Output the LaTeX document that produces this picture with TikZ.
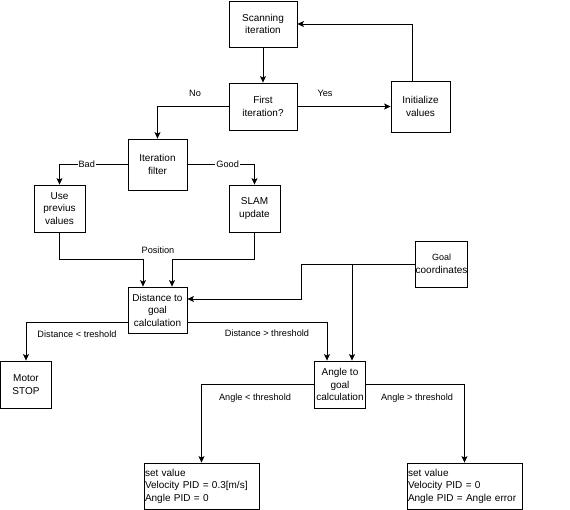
\documentclass[tikz,border=0pt]{standalone}
\usepackage{fontspec}
\setmainfont{Liberation Sans}
\usetikzlibrary{arrows.meta}
\tikzset{
  box/.style = {draw, line width=.8pt, inner sep=1pt, align=center,
    font=\fontsize{10}{12.5}\selectfont},
  lbl/.style = {inner sep=1pt, font=\fontsize{9.2}{11}\selectfont},
  flow/.style = {line width=.8pt, -{Stealth[length=6.5pt,width=6pt,inset=1.5pt]}}
}
\begin{document}
\begin{tikzpicture}[x=1pt,y=-1pt]
    \useasboundingbox (0,0) rectangle (570,510);
    \begin{scope}
      \node[box, minimum width=68pt, minimum height=46pt] (scan) at (263,24) {Scanning\\iteration};
      \node[box, minimum width=68pt, minimum height=47pt] (first) at (263,106.5) {First\\iteration?};
      \node[box, minimum width=59pt, minimum height=51pt] (init) at (420.5,106.5) {Initialize\\values};
      \node[box, minimum width=59pt, minimum height=51pt] (filter) at (157.5,164.5) {Iteration\\filter};
      \node[box, minimum width=51pt, minimum height=47pt] (prev) at (59.5,208.5) {Use\\previus\\values};
      \node[box, minimum width=51pt, minimum height=47pt] (slam) at (254.5,208.5) {SLAM\\update};
      \node[box, inner sep=0pt, minimum width=51pt, minimum height=46pt] (goal) at (441.5,264) {\fontsize{9}{12.5}\selectfont Goal\\coordinates};
      \node[box, minimum width=59pt, minimum height=46pt] (dist) at (157.5,310) {Distance to\\goal\\calculation};
      \node[box, minimum width=51pt, minimum height=47pt] (stop) at (26,384.5) {Motor\\STOP};
      \node[box, minimum width=51pt, minimum height=47pt] (angle) at (340,384.5) {Angle to\\goal\\calculation};
      \node[box, align=left, text width=113pt, minimum height=46pt] (setl) at (201.5,486) {set value\\Velocity PID = 0.3[m/s]\\Angle PID = 0};
      \node[box, align=left, text width=113pt, minimum height=46pt] (setr) at (464.5,486) {set value\\Velocity PID = 0\\Angle PID = Angle error};
      \coordinate (split) at (352,264);

      % scanning loop
      \draw[flow] (scan) -- (first);
      \draw[flow] (first) -- (init);
      \draw[flow] ([xshift=-8.5pt]init.north) |- (scan.east);
      \draw[flow] (first.west) -| (filter.north);
      \node[lbl] (yes) at (325,93) {Yes};
      \node[lbl] (no) at (195,93) {No};

      % filter
      \draw[flow] (filter.west) -| (prev.north) node[lbl, fill=white, pos=.3] (bad) {Bad};
      \draw[flow] (filter.east) -| (slam.north) node[lbl, fill=white, pos=.3] (good) {Good};
      \draw[flow] (prev.south) -- ++(0,27) -| ([xshift=-14.5pt]dist.north);
      \draw[flow] (slam.south) -- ++(0,27) -| ([xshift=14.5pt]dist.north);
      \node[lbl] (pos) at (158,250) {Position};

      % goal
      \draw[flow] (goal.west) -- ++(-114,0) |- ([yshift=11pt]dist.east);
      \draw[flow] (split) -- (split |- angle.north);

      % distance
      \draw[flow] ([yshift=-12pt]dist.west) -| (stop.north);
      \draw[flow] ([yshift=-12pt]dist.east) -| ([xshift=-13pt]angle.north);
      \node[lbl] (dless) at (77,334) {Distance < treshold};
      \node[lbl] (dmore) at (267,333) {Distance > threshold};

      % angle
      \draw[flow] (angle.west) -| (setl.north);
      \draw[flow] (angle.east) -| (setr.north);
      \node[lbl] (aless) at (255,398) {Angle < threshold};
      \node[lbl] (amore) at (417,398) {Angle > threshold};
    \end{scope}
\end{tikzpicture}
\end{document}
